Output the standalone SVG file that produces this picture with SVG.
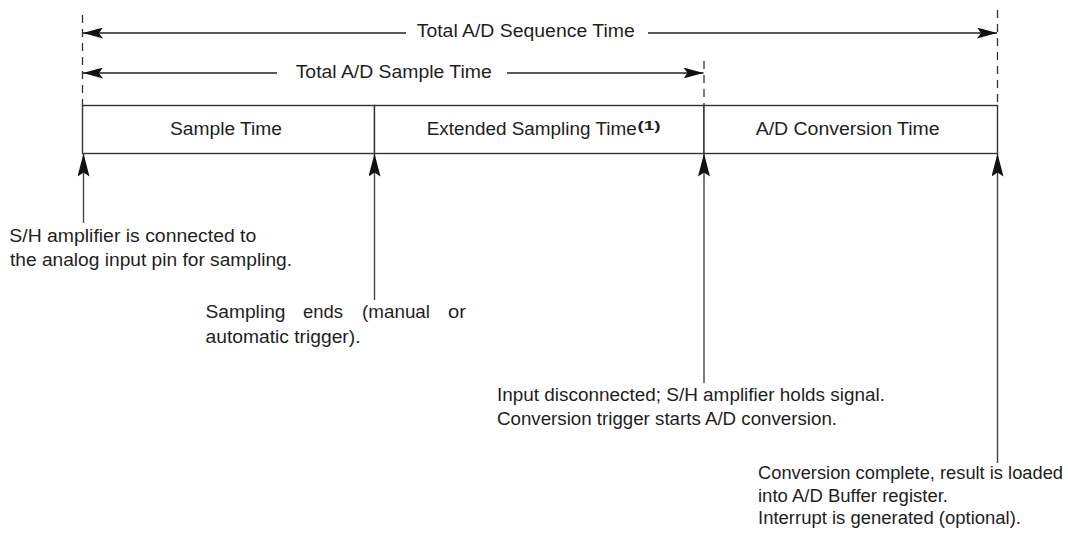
<svg xmlns="http://www.w3.org/2000/svg" width="1068" height="543" viewBox="0 0 1068 543">
  <style>
    .t { font-family: "Liberation Sans", Arial, sans-serif; font-size: 17.5px; fill: #1e1e1e; }
    .sup { font-family: "Liberation Sans", Arial, sans-serif; font-size: 13px; font-weight: bold; fill: #1e1e1e; }
    .box { fill: #fff; stroke: #333; stroke-width: 1.4; }
    .dash { stroke: #333; stroke-width: 1.3; stroke-dasharray: 8 6; fill: none; }
    .dim { stroke: #222; stroke-width: 1.3; fill: none; marker-end: url(#arrowH); }
    .lead { stroke: #444; stroke-width: 1.4; fill: none; marker-end: url(#arrowV); }
  </style>
  <defs>
    <marker id="arrowH" viewBox="0 0 20 11" refX="20" refY="5.5" markerWidth="20" markerHeight="11" markerUnits="userSpaceOnUse" orient="auto">
      <path d="M0,0 L20,5.5 L0,11 L4,5.5 Z" fill="#111"/>
    </marker>
    <marker id="arrowV" viewBox="0 0 23 12" refX="23" refY="6" markerWidth="23" markerHeight="12" markerUnits="userSpaceOnUse" orient="auto">
      <path d="M0,0 L23,6 L0,12 L4,6 Z" fill="#111"/>
    </marker>
  </defs>
  <rect width="1068" height="543" fill="#fff"/>

  <!-- timeline segments -->
  <g id="timeline">
    <g id="seg-sample">
      <rect class="box" x="82.5" y="105.5" width="292" height="48"/>
      <text class="t" x="170" y="135" textLength="112" lengthAdjust="spacingAndGlyphs">Sample Time</text>
    </g>
    <g id="seg-extended">
      <rect class="box" x="374.5" y="105.5" width="329.5" height="48"/>
      <text class="t" x="426.7" y="135"><tspan textLength="210" lengthAdjust="spacingAndGlyphs">Extended Sampling Time</tspan><tspan class="sup" x="637.5" y="130" textLength="23" lengthAdjust="spacingAndGlyphs">(1)</tspan></text>
    </g>
    <g id="seg-conversion">
      <rect class="box" x="704" y="105.5" width="293.5" height="48"/>
      <text class="t" x="755.7" y="135" textLength="184" lengthAdjust="spacingAndGlyphs">A/D Conversion Time</text>
    </g>
  </g>

  <!-- dimension lines -->
  <g id="dimensions">
    <path class="dash" d="M82.5,15 V105"/>
    <path class="dash" d="M997.5,10 V105"/>
    <path class="dash" d="M704,61 V105"/>
    <g id="dim-sequence">
      <path class="dim" d="M406,33 H83"/>
      <path class="dim" d="M648,33 H997"/>
      <text class="t" x="416.7" y="37" textLength="218" lengthAdjust="spacingAndGlyphs">Total A/D Sequence Time</text>
    </g>
    <g id="dim-sample">
      <path class="dim" d="M277,73 H83"/>
      <path class="dim" d="M507,73 H703.5"/>
      <text class="t" x="295.7" y="78" textLength="196" lengthAdjust="spacingAndGlyphs">Total A/D Sample Time</text>
    </g>
  </g>

  <!-- connectors (event leaders) -->
  <g id="connectors">
    <path class="lead" d="M83.5,223 V153.5"/>
    <path class="lead" d="M374.5,300 V153.5"/>
    <path class="lead" d="M704,383 V153.5"/>
    <path class="lead" d="M997.5,463 V153.5"/>
  </g>

  <!-- annotations -->
  <g id="note-connect">
    <text class="t" x="9.3" y="241.7" textLength="247" lengthAdjust="spacingAndGlyphs">S/H amplifier is connected to</text>
    <text class="t" x="10" y="265.5" textLength="282" lengthAdjust="spacingAndGlyphs">the analog input pin for sampling.</text>
  </g>
  <g id="note-sampling-ends">
    <text class="t" y="317.5"><tspan x="205.5" textLength="80" lengthAdjust="spacingAndGlyphs">Sampling</tspan> <tspan x="303" textLength="40" lengthAdjust="spacingAndGlyphs">ends</tspan> <tspan x="362" textLength="68" lengthAdjust="spacingAndGlyphs">(manual</tspan> <tspan x="448" textLength="18" lengthAdjust="spacingAndGlyphs">or</tspan></text>
    <text class="t" x="205.5" y="342.5" textLength="155" lengthAdjust="spacingAndGlyphs">automatic trigger).</text>
  </g>
  <g id="note-disconnect">
    <text class="t" x="497" y="400.5" textLength="388" lengthAdjust="spacingAndGlyphs">Input disconnected; S/H amplifier holds signal.</text>
    <text class="t" x="497" y="425" textLength="340" lengthAdjust="spacingAndGlyphs">Conversion trigger starts A/D conversion.</text>
  </g>
  <g id="note-complete">
    <text class="t" x="758" y="479" textLength="305" lengthAdjust="spacingAndGlyphs">Conversion complete, result is loaded</text>
    <text class="t" x="758" y="501.7" textLength="190" lengthAdjust="spacingAndGlyphs">into A/D Buffer register.</text>
    <text class="t" x="758" y="524.3" textLength="263" lengthAdjust="spacingAndGlyphs">Interrupt is generated (optional).</text>
  </g>
</svg>
